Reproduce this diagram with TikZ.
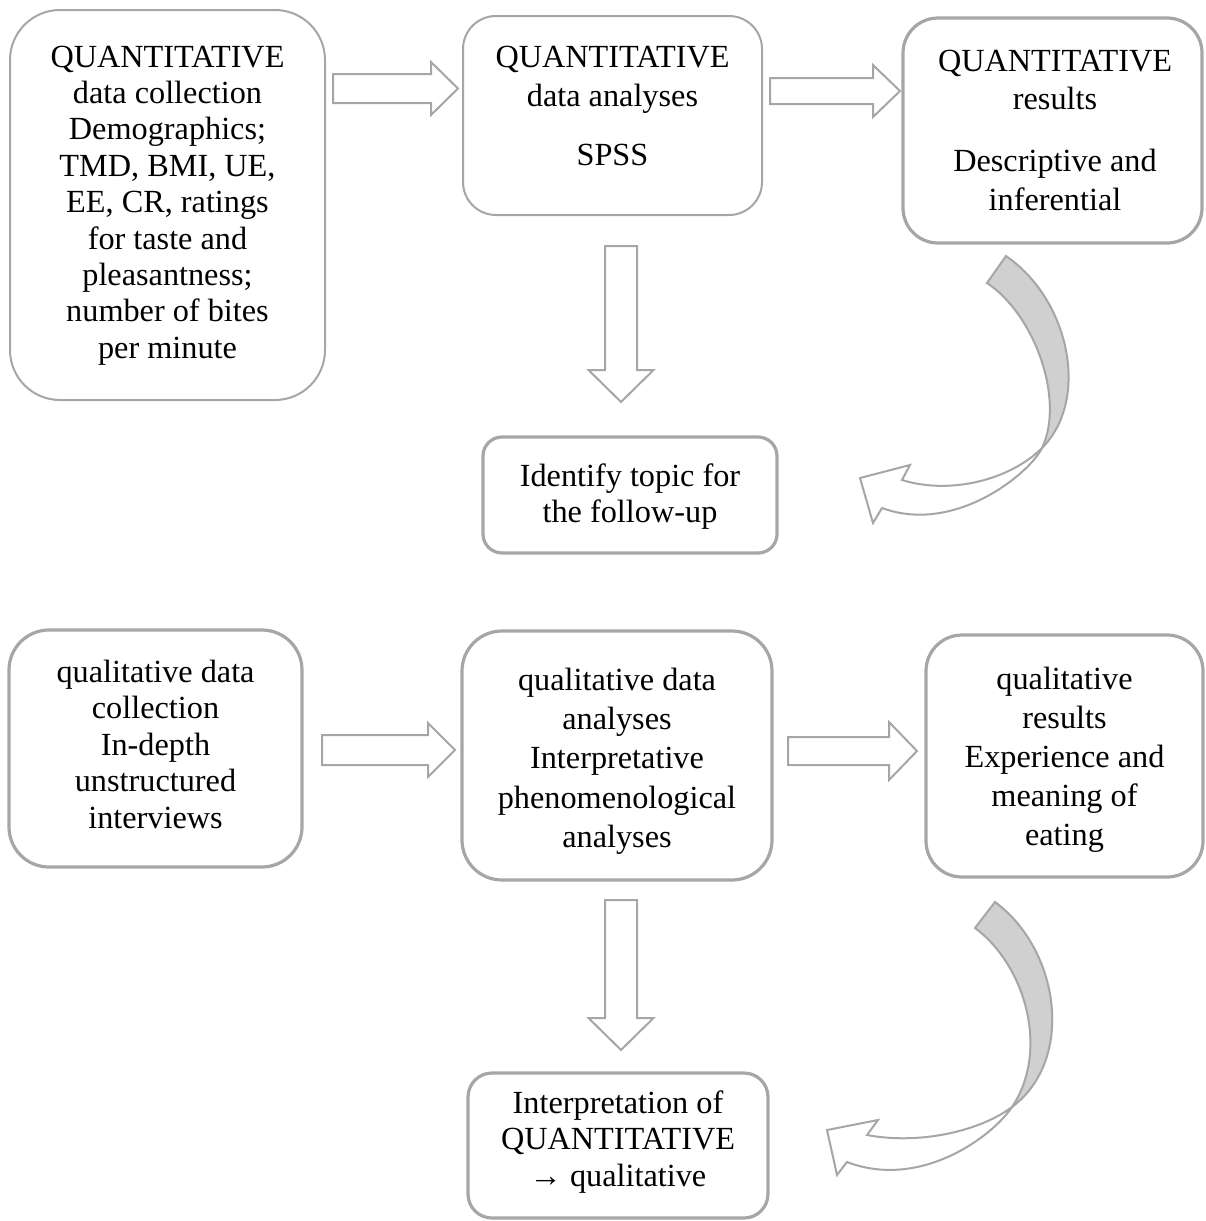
\documentclass[tikz,border=0pt]{standalone}
\usepackage{fontspec}
\setmainfont{Liberation Serif}
\definecolor{lg}{HTML}{A6A6A6}
\definecolor{fillg}{HTML}{D0D0D0}
\newcommand\mybox[7]{\node[#7, minimum width=#4*0.75pt, minimum height=#5*0.75pt, rounded corners=#6*0.75pt] (#1) at (#2,#3) {};}
\newcommand\rarr[7]{\draw[blk] (#2,#4-#5) -- (#7,#4-#5) -- (#7,#4-#6) -- (#3,#4) -- (#7,#4+#6) -- (#7,#4+#5) -- (#2,#4+#5) -- cycle;}
\newcommand\darr[7]{\draw[blk] (#4-#5,#2) -- (#4-#5,#7) -- (#4-#6,#7) -- (#4,#3) -- (#4+#6,#7) -- (#4+#5,#7) -- (#4+#5,#2) -- cycle;}
\begin{document}
\begin{tikzpicture}[x=0.75pt,y=-0.75pt,
  thinbox/.style={draw=lg, line width=1.5pt, inner sep=0pt, fill=white},
  thickbox/.style={draw=lg, line width=2.4pt, inner sep=0pt, fill=white},
  blk/.style={draw=lg, line width=1.5pt, fill=white, line join=miter},
  curv/.style={draw=lg, line width=1.5pt, line join=miter},
  txt/.style={text width=280pt, align=flush center, anchor=base, inner sep=0pt, font={\fontsize{24.2}{#1}\selectfont}}]
\useasboundingbox (0,0) rectangle (1206,1221);
% boxes
\mybox{b1}{167.5}{205}{315}{390}{50}{thinbox}
\mybox{b2}{612.5}{115.5}{299}{199}{33}{thinbox}
\mybox{b3}{1052.5}{130.5}{299}{225}{35}{thickbox}
\mybox{b4}{630}{495}{294}{116}{19}{thickbox}
\mybox{b5}{155.5}{748.5}{293}{237}{40}{thickbox}
\mybox{b6}{617}{755.5}{310}{249}{40}{thickbox}
\mybox{b7}{1064.5}{756}{277}{242}{36}{thickbox}
\mybox{b8}{618}{1145.5}{300}{145}{24}{thickbox}
% texts
\node[txt=27.3pt] (t1) at (167.5,67) {QUANTITATIVE\\ data collection\\ Demographics;\\ TMD, BMI, UE,\\ EE, CR, ratings\\ for taste and\\ pleasantness;\\ number of bites\\ per minute};
\node[txt=28.8pt] (t2) at (612.5,67.6) {QUANTITATIVE\\ data analyses\\[15.9pt] SPSS};
\node[txt=28.7pt] (t3) at (1055,71.7) {QUANTITATIVE\\ results\\[17.8pt] Descriptive and\\[0.5pt] inferential};
\node[txt=27.5pt] (t4) at (630,486) {Identify topic for\\ the follow-up};
\node[txt=27.4pt] (t5) at (155.5,682) {qualitative data\\ collection\\ In-depth\\ unstructured\\ interviews};
\node[txt=29.6pt] (t6) at (617,690) {qualitative data\\ analyses\\ Interpretative\\ phenomenological\\ analyses};
\node[txt=29.25pt] (t7) at (1064.5,689) {qualitative\\ results\\ Experience and\\ meaning of\\ eating};
\node[txt=27.4pt] (t8) at (618,1113) {Interpretation of\\ QUANTITATIVE\\ → qualitative};
% block arrows
\rarr{a1}{333}{458}{88.5}{14.5}{26.5}{431}
\rarr{a2}{770}{900}{91}{13}{26}{873}
\rarr{a3}{322}{455}{750}{15}{27}{428}
\rarr{a4}{788}{917}{751}{14}{29}{889}
\darr{d1}{246}{402}{621}{16}{32.5}{370}
\darr{d2}{900}{1050}{621}{16}{32.5}{1018}
% curved arrow 1
\coordinate (x1) at (1042,448);
\filldraw[curv, fill=fillg] (1006,256) .. controls (1070,300) and (1090,400) .. (x1) .. controls (1065,400) and (1035,315) .. (987,283) -- cycle;
\filldraw[curv, fill=white] (x1) .. controls (1010,480) and (950,495) .. (902,480) -- (910,465) -- (860,478) -- (873,523) -- (882,508) .. controls (955,535) and (1030,473) .. (x1) -- cycle;
% curved arrow 2
\coordinate (x2) at (1012,1107);
\filldraw[curv, fill=fillg] (995,902) .. controls (1060,950) and (1075,1060) .. (x2) .. controls (1050,1050) and (1025,965) .. (975,928) -- cycle;
\filldraw[curv, fill=white] (x2) .. controls (980,1131) and (920,1145) .. (867,1135) -- (878,1120) -- (827,1130) -- (837,1175) -- (847,1162) .. controls (920,1190) and (992,1137) .. (x2) -- cycle;
\end{tikzpicture}
\end{document}
